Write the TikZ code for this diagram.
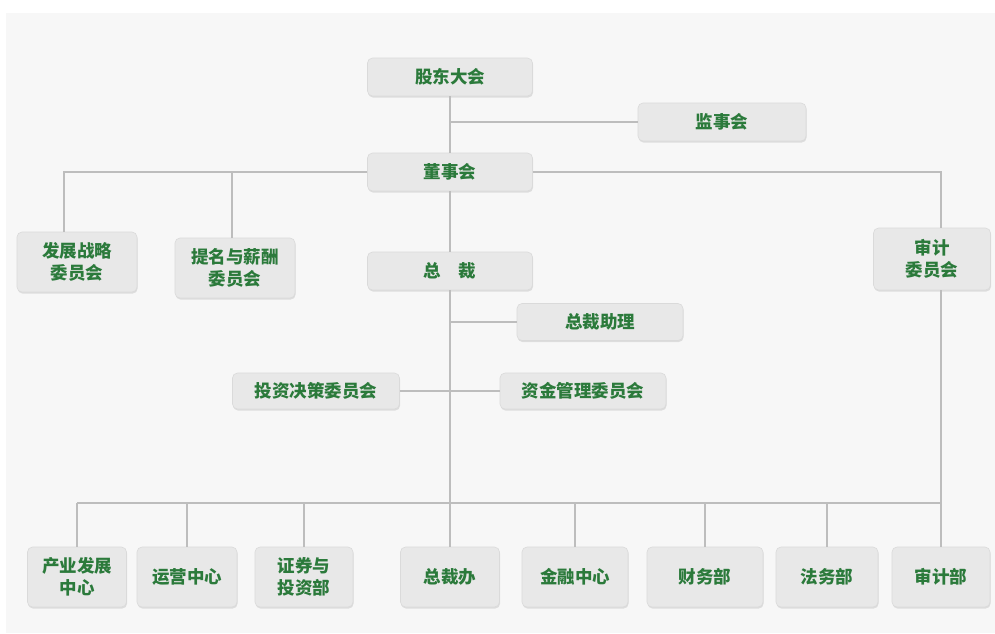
\documentclass[tikz,border=0pt]{standalone}
\usepackage{fontspec}
\newfontfamily\cjk{Noto Sans CJK SC}
\usetikzlibrary{shadows}
\definecolor{panel}{HTML}{F7F7F7}
\definecolor{boxfill}{HTML}{E8E8E8}
\definecolor{boxline}{HTML}{DADADA}
\definecolor{txt}{HTML}{2B7A3B}
\definecolor{linegray}{HTML}{BDBDBD}
\begin{document}
\begin{tikzpicture}[x=1pt,y=-1pt,
  box/.style={rectangle, rounded corners=5pt, fill=boxfill, draw=boxline, line width=0.6pt,
    drop shadow={shadow xshift=0.6pt, shadow yshift=-1.6pt, fill=black, opacity=0.10},
    text=txt, font=\cjk\bfseries\fontsize{17.5}{22}\selectfont, align=center, inner sep=0pt},
  sz/.style 2 args={minimum width=#1pt, minimum height=#2pt},
  link/.style={draw=linegray, line width=1.5pt}]
\useasboundingbox (0,0) rectangle (995,633);
\fill[white] (0,0) rectangle (995,633);
\fill[panel] (6,13) rectangle (995,633);

% upper levels
\node[box, sz={165}{38}] (gd)  at (450,77)  {股东大会};
\node[box, sz={168}{38}] (js)  at (722,122) {监事会};
\node[box, sz={165}{38}] (dsh) at (450,172) {董事会};
\node[box, sz={120}{60}] (fz)  at (77,262)  {发展战略\\委员会};
\node[box, sz={120}{60}] (tm)  at (235,268) {提名与薪酬\\委员会};
\node[box, sz={117}{62}] (sj)  at (932,259) {审计\\委员会};
\node[box, sz={165}{38}] (zc)  at (450,271) {总　裁};
\node[box, sz={166}{37}] (zcz) at (600,322) {总裁助理};
\node[box, sz={167}{36}] (tz)  at (316,391) {投资决策委员会};
\node[box, sz={166}{36}] (zj)  at (583,391) {资金管理委员会};

% bottom row
\node[box, sz={99}{60}]  (cy)  at (77,577)  {产业发展\\中心};
\node[box, sz={100}{60}] (yy)  at (187,577) {运营中心};
\node[box, sz={98}{60}]  (zq)  at (304,577) {证券与\\投资部};
\node[box, sz={99}{60}]  (zcb) at (450,577) {总裁办};
\node[box, sz={106}{60}] (jr)  at (575,577) {金融中心};
\node[box, sz={116}{60}] (cw)  at (705,577) {财务部};
\node[box, sz={102}{60}] (fw)  at (827,577) {法务部};
\node[box, sz={98}{60}]  (sjb) at (941,577) {审计部};

% helper coordinates
\coordinate (cl)   at (64,172);
\coordinate (cm)   at (232,172);
\coordinate (cr)   at (941,172);
\coordinate (barL) at (77,503);
\coordinate (barR) at (941,503);

% connectors
\draw[link] (gd) -- (dsh);
\draw[link] (js.west) -- (js.west -| gd.south);
\draw[link] (dsh.west) -- (cl) -- (cl |- fz.north);
\draw[link] (cm) -- (cm |- tm.north);
\draw[link] (dsh.east) -- (cr) -- (cr |- sj.north);
\draw[link] (dsh) -- (zc);
\draw[link] (zcz.west) -- (zcz.west -| zc.south);
\draw[link] (tz.east) -- (zj.west);
\draw[link] (zc.south) -- (zcb.north);
\draw[link] (sj.south -| cr) -- (sjb.north);
\draw[link] (barL) -- (barR);
\draw[link] (cy.north) -- (cy.north |- barL);
\draw[link] (yy.north) -- (yy.north |- barL);
\draw[link] (zq.north) -- (zq.north |- barL);
\draw[link] (jr.north) -- (jr.north |- barL);
\draw[link] (cw.north) -- (cw.north |- barL);
\draw[link] (fw.north) -- (fw.north |- barL);
\end{tikzpicture}
\end{document}
